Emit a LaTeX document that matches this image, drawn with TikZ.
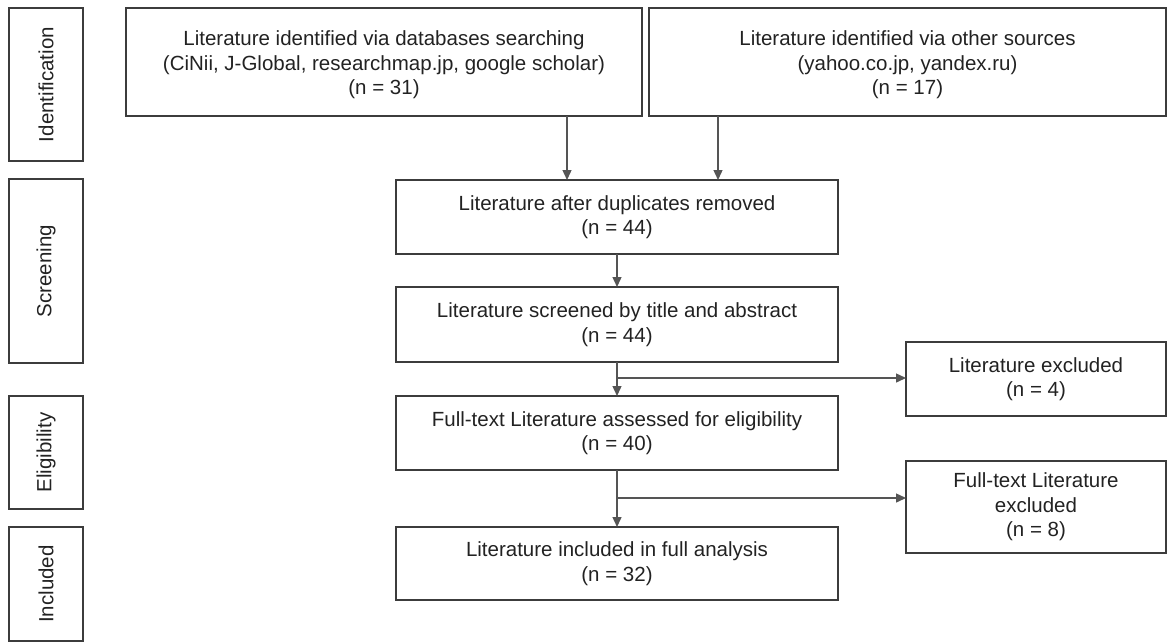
\documentclass[tikz,border=0pt]{standalone}
\usepackage{fontspec}
\setmainfont{Liberation Sans}
\usetikzlibrary{arrows.meta}
\definecolor{boxline}{HTML}{3C3C3C}
\definecolor{arrline}{HTML}{555555}
\definecolor{txt}{HTML}{222222}
\begin{document}
\begin{tikzpicture}[x=1pt,y=-1pt,
  every node/.style={font=\fontsize{20.5}{24.5}\selectfont, text=txt, inner sep=0pt, outer sep=0pt},
  flowbox/.style={draw=boxline, line width=1.6pt, align=center},
  stagebox/.style={draw=boxline, line width=1.6pt, rotate=90, minimum height=74pt},
  arr/.style={draw=arrline, line width=1.4pt, -{Triangle[length=10pt,width=9pt]}}
]
\useasboundingbox (0,0) rectangle (1169,643);
% stage labels
\node[stagebox, minimum width=153pt] (lab1) at (46,84.5) {Identification};
\node[stagebox, minimum width=184pt] (lab2) at (46,271) {Screening};
\node[stagebox, minimum width=113pt] (lab3) at (46,452.5) {Eligibility};
\node[stagebox, minimum width=114pt] (lab4) at (46,584) {Included};
% flow boxes
\node[flowbox, minimum width=516pt, minimum height=108pt] (A) at (384,62)
  {\rule{0pt}{21pt}Literature identified via databases searching\\(CiNii, J-Global, researchmap.jp, google scholar)\\(n = 31)};
\node[flowbox, minimum width=517pt, minimum height=108pt] (B) at (907.5,62)
  {\rule{0pt}{21pt}Literature identified via other sources\\(yahoo.co.jp, yandex.ru)\\(n = 17)};
\node[flowbox, minimum width=442pt, minimum height=74pt] (dup) at (617,217)
  {Literature after duplicates removed\\(n = 44)};
\node[flowbox, minimum width=442pt, minimum height=75pt] (scr) at (617,324.5)
  {Literature screened by title and abstract\\(n = 44)};
\node[flowbox, minimum width=442pt, minimum height=74pt] (ft) at (617,433)
  {Full-text Literature assessed for eligibility\\(n = 40)};
\node[flowbox, minimum width=442pt, minimum height=73pt] (inc) at (617,563.5)
  {Literature included in full analysis\\(n = 32)};
\node[flowbox, minimum width=260pt, minimum height=74pt] (exc1) at (1036,379)
  {Literature excluded\\(n = 4)};
\node[flowbox, minimum width=260pt, minimum height=92pt] (exc2) at (1036,507)
  {Full-text Literature\\excluded\\(n = 8)};
% connector coordinates
\coordinate (cA) at (567,0);
\coordinate (cB) at (718,0);
\coordinate (j1) at (617,378);
\coordinate (j2) at (617,498);
% connectors
\draw[arr] (A.south -| cA) -- (dup.north -| cA);
\draw[arr] (B.south -| cB) -- (dup.north -| cB);
\draw[arr] (dup.south) -- (scr.north);
\draw[arr] (scr.south) -- (ft.north);
\draw[arr] (ft.south) -- (inc.north);
\draw[arr] (j1) -- (j1 -| exc1.west);
\draw[arr] (j2) -- (j2 -| exc2.west);
\end{tikzpicture}
\end{document}
